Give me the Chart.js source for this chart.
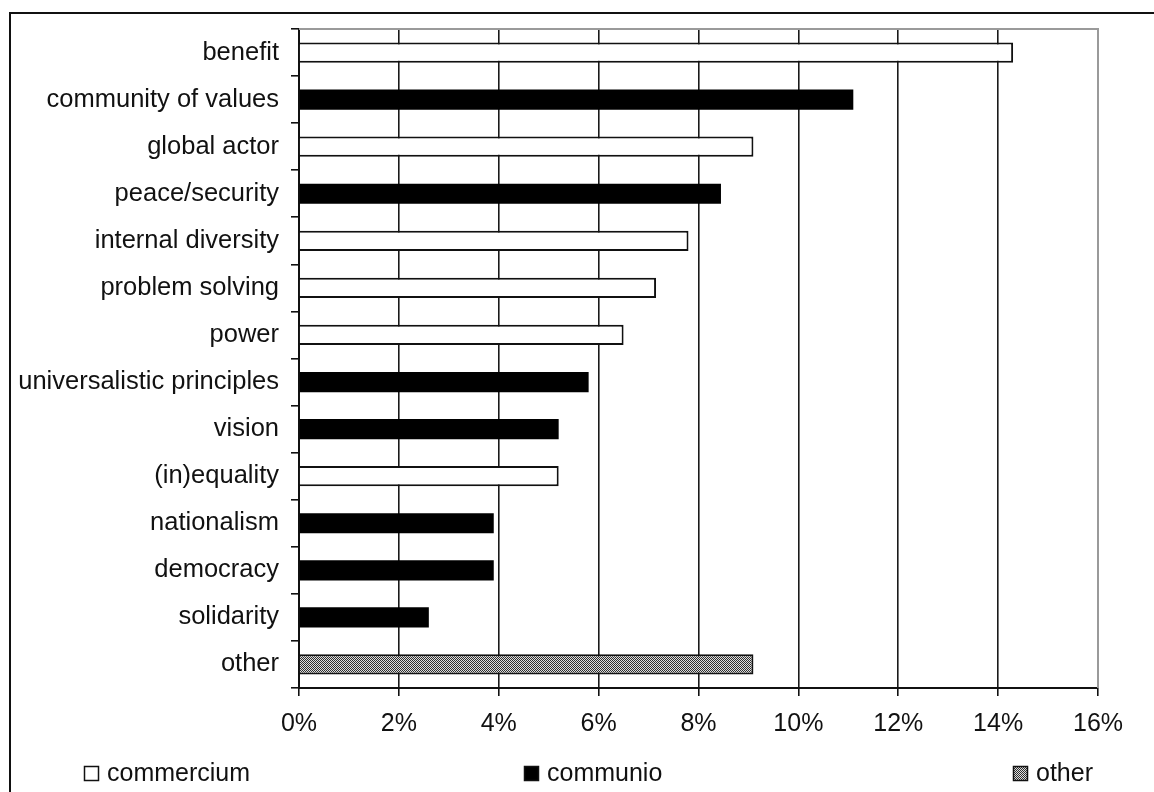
<!DOCTYPE html>
<html>
<head>
<meta charset="utf-8">
<script src="https://cdn.jsdelivr.net/npm/chart.js@4"></script>
<style>
  html, body { margin:0; padding:0; background:#fff; }
  #wrap { position:relative; width:1154px; height:792px; overflow:hidden; }
  #frame { position:absolute; left:9px; top:12px; width:1200px; height:900px; border-left:2px solid #111; border-top:2px solid #111; }
  canvas { position:absolute; left:0; top:0; }
</style>
</head>
<body>
<div id="wrap">
  <div id="frame"></div>
  <canvas id="chart" width="1154" height="792"></canvas>
</div>
<script>
// --- Data ---
const categories = ['benefit', 'community of values', 'global actor', 'peace/security', 'internal diversity',
  'problem solving', 'power', 'universalistic principles', 'vision', '(in)equality',
  'nationalism', 'democracy', 'solidarity', 'other'];
const commercium = [14.3, null, 9.1, null, 7.8, 7.15, 6.5, null, null, 5.2, null, null, null, null];
const communio   = [null, 11.1, null, 8.45, null, null, null, 5.8, 5.2, null, 3.9, 3.9, 2.6, null];
const otherVals  = [null, null, null, null, null, null, null, null, null, null, null, null, null, 9.1];
const xTicks = [0, 2, 4, 6, 8, 10, 12, 14, 16];

const FONT = "'Liberation Sans', Arial, sans-serif";
Chart.defaults.font.family = FONT;
Chart.defaults.color = '#111';

// dithered grey fill for "other"
function ditherPattern() {
  const pc = document.createElement('canvas');
  pc.width = 4; pc.height = 4;
  const p = pc.getContext('2d');
  p.fillStyle = '#dedede'; p.fillRect(0, 0, 4, 4);
  p.fillStyle = '#2e2e2e';
  for (let y = 0; y < 4; y++) for (let x = 0; x < 4; x++) if ((x + y) % 2 === 0) p.fillRect(x, y, 1, 1);
  return document.createElement('canvas').getContext('2d').createPattern(pc, 'repeat');
}
const otherFill = ditherPattern();

// grey top + right border of plot area
const plotBorder = {
  id: 'plotBorder',
  afterDatasetsDraw(chart) {
    const {ctx, chartArea:a} = chart;
    ctx.save();
    ctx.strokeStyle = '#9a9a9a'; ctx.lineWidth = 2;
    ctx.beginPath();
    ctx.moveTo(a.left, a.top); ctx.lineTo(a.right, a.top); ctx.lineTo(a.right, a.bottom);
    ctx.stroke();
    ctx.restore();
  }
};

// legend spread along the bottom
const spreadLegend = {
  id: 'spreadLegend',
  afterDraw(chart) {
    const ctx = chart.ctx;
    const xs = [84, 524, 1013];
    const y = 774;
    ctx.save();
    ctx.font = '25px ' + FONT;
    ctx.textBaseline = 'middle';
    chart.data.datasets.forEach((ds, i) => {
      ctx.fillStyle = ds.backgroundColor;
      ctx.fillRect(xs[i], y - 8, 15, 15);
      ctx.strokeStyle = '#111'; ctx.lineWidth = 1.5;
      ctx.strokeRect(xs[i] + 0.5, y - 7.5, 14, 14);
      ctx.fillStyle = '#111';
      ctx.fillText(ds.label, xs[i] + 23, y);
    });
    ctx.restore();
  }
};

new Chart(document.getElementById('chart'), {
  type: 'bar',
  data: {
    labels: categories,
    datasets: [
      {label:'commercium', data:commercium, backgroundColor:'#ffffff', borderColor:'#111', borderWidth:2},
      {label:'communio', data:communio, backgroundColor:'#000000', borderColor:'#000', borderWidth:0},
      {label:'other', data:otherVals, backgroundColor:otherFill, borderColor:'#111', borderWidth:2}
    ]
  },
  options: {
    indexAxis: 'y',
    responsive: false,
    animation: false,
    layout: { padding: { top: 29, right: 56, left: 0, bottom: 0 } },
    datasets: { bar: { barPercentage: 0.43, categoryPercentage: 1, skipNull: true } },
    plugins: { legend: { display: false }, tooltip: { enabled: false } },
    scales: {
      x: {
        min: 0, max: 16, stacked: true,
        afterBuildTicks: s => { s.ticks = xTicks.map(v => ({value: v})); },
        afterFit: s => { s.height = 104; },
        border: { display: true, color: '#111', width: 2 },
        grid: {
          color: c => c.tick && c.tick.value === 16 ? '#9a9a9a' : '#1a1a1a',
          tickColor: '#111',
          lineWidth: 1.6, tickLength: 8
        },
        ticks: { padding: 13, font: { size: 25 }, color: '#111', callback: v => v + '%' }
      },
      y: {
        stacked: true,
        afterFit: s => { s.width = 299; },
        border: { display: true, color: '#111', width: 2 },
        grid: {
          offset: true,
          color: 'transparent',
          tickColor: '#111',
          lineWidth: 1.6, tickLength: 8
        },
        ticks: { padding: 12, font: { size: 25.5 }, color: '#111', autoSkip: false }
      }
    }
  },
  plugins: [plotBorder, spreadLegend]
});
</script>
</body>
</html>
